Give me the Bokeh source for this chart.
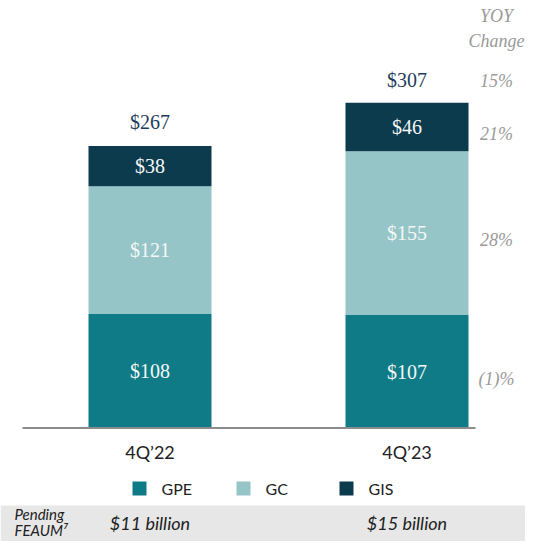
import numpy as np
from bokeh.plotting import figure
from bokeh.models import Range1d
from bokeh.core.properties import value
from bokeh.embed import file_html
from bokeh.resources import INLINE

# ---------------- data ----------------
categories = ["4Q\u201922", "4Q\u201923"]
series = ["GPE", "GC", "GIS"]
gpe = [108, 107]
gc = [121, 155]
gis = [38, 46]
totals = [267, 307]
yoy_segments = ["(1)%", "28%", "21%"]   # GPE, GC, GIS
yoy_total = "15%"
pending = ["$11 billion", "$15 billion"]
colors = ["#0f7b86", "#95c5c7", "#0c3b4e"]

# ---------------- layout helpers (reference pixel -> data) ----------------
PX = 1.056      # pixels per $bn
BASE = 427.5    # baseline pixel row in reference
W, H = 525, 541


def X(px):
    return px


def Y(px):
    return (BASE - px) / PX


centers = [X(149.5), X(406.5)]
bar_w = 123

p = figure(width=W, height=H, x_range=Range1d(0, W), y_range=Range1d(Y(H), Y(0)),
           output_backend="svg", toolbar_location=None, min_border=0)
p.axis.visible = False
p.grid.visible = False
p.outline_line_color = None
p.background_fill_color = "white"
p.border_fill_color = "white"

SERIF = value("Liberation Serif")
SANS = value("Lato")

# bottom grey band
p.quad(left=[X(0)], right=[X(545)], bottom=[Y(570)], top=[Y(505)],
       fill_color="#e7e7e7", line_color=None)

# stacked bars
vals = [np.array(gpe, float), np.array(gc, float), np.array(gis, float)]
bottom = np.zeros(len(categories))
for v, c in zip(vals, colors):
    top = bottom + v
    p.vbar(x=centers, width=bar_w, bottom=bottom, top=top, fill_color=c, line_color=None)
    mids = (bottom + top) / 2
    p.text(x=centers, y=mids, text=[f"${int(t)}" for t in v], text_align="center",
           text_baseline="middle", text_color="#f4f7f7", text_font=SERIF, text_font_size="20px")
    bottom = top

# totals
p.text(x=centers, y=totals, y_offset=-24, text=[f"${t}" for t in totals], text_align="center",
       text_baseline="middle", text_color="#1f3d5c", text_font=SERIF, text_font_size="20px")

# baseline
p.segment(x0=[X(22)], x1=[X(475)], y0=[0], y1=[0], line_color="#8c8c8c", line_width=2)

# category labels
p.text(x=centers, y=[0, 0], y_offset=24, text=categories, text_align="center",
       text_baseline="middle", text_color="#222222", text_font=SANS, text_font_size="18px")

# YOY column
yoy_x = X(496)
p.text(x=[yoy_x, yoy_x], y=[Y(15), Y(40)], text=["YOY", "Change"], text_align="center",
       text_baseline="middle", text_color="#9a9a9a", text_font=SERIF, text_font_style="italic",
       text_font_size="18px")
seg_b = np.array([0.0, gpe[1], gpe[1] + gc[1]])
seg_t = seg_b + np.array([gpe[1], gc[1], gis[1]])
p.text(x=[yoy_x] * 3, y=(seg_b + seg_t) / 2, y_offset=7, text=yoy_segments, text_align="center",
       text_baseline="middle", text_color="#9a9a9a", text_font=SERIF, text_font_style="italic",
       text_font_size="18px")
p.text(x=[yoy_x], y=[totals[1]], y_offset=-23, text=[yoy_total], text_align="center",
       text_baseline="middle", text_color="#9a9a9a", text_font=SERIF, text_font_style="italic",
       text_font_size="18px")

# legend
leg_sq_x = [X(139), X(243), X(346)]
leg_tx_x = [X(161), X(265), X(368)]
leg_y = Y(488)
p.scatter(x=leg_sq_x, y=[leg_y] * 3, marker="square", size=14, fill_color=colors, line_color=None)
p.text(x=leg_tx_x, y=[leg_y] * 3, text=series, text_align="left", text_baseline="middle",
       text_color="#222222", text_font=SANS, text_font_size="16px")

# pending FEAUM row
p.text(x=[X(14), X(14)], y=[Y(513), Y(529)], text=["Pending", "FEAUM\u2077"], text_align="left",
       text_baseline="middle", text_color="#222222", text_font=SANS, text_font_style="italic",
       text_font_size="15px")
p.text(x=centers, y=[Y(522), Y(522)], text=pending, text_align="center", text_baseline="middle",
       text_color="#222222", text_font=SANS, text_font_style="italic", text_font_size="18px")

open("out.html", "w").write(file_html(p, INLINE))
